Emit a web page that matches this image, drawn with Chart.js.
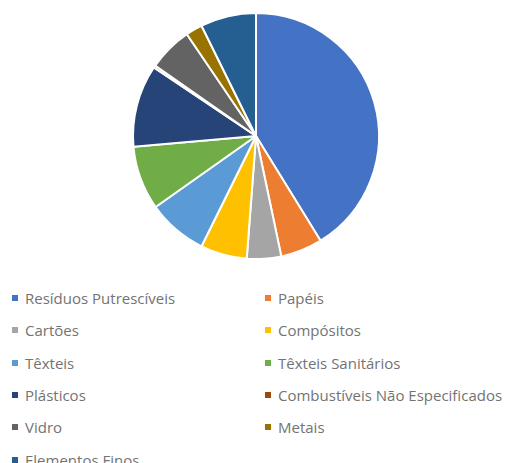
<!DOCTYPE html>
<html>
<head>
<meta charset="utf-8">
<script src="https://cdn.jsdelivr.net/npm/chart.js@4"></script>
<style>
  body { margin: 0; background: #fff; }
  #wrap { position: relative; width: 508px; height: 463px; overflow: hidden; }
  #pie { position: absolute; left: 0; top: 0; }
  #legend {
    position: absolute; left: 0; top: 288px; width: 508px;
    font-family: "Open Sans", sans-serif; font-size: 15px; color: #737373;
  }
  .item { position: absolute; white-space: nowrap; line-height: 20px; }
  .item i { display: inline-block; width: 6px; height: 6px; margin-right: 7px; vertical-align: 3px; }
</style>
</head>
<body>
<div id="wrap">
  <canvas id="pie" width="508" height="280"></canvas>
  <div id="legend"></div>
</div>
<script>
// composição dos resíduos (%)
const categorias = [
  'Resíduos Putrescíveis', 'Papéis', 'Cartões', 'Compósitos', 'Têxteis',
  'Têxteis Sanitários', 'Plásticos', 'Combustíveis Não Especificados',
  'Vidro', 'Metais', 'Elementos Finos'
];
const percentagens = [41.2, 5.5, 4.5, 6.1, 7.9, 8.4, 10.8, 0.3, 5.8, 2.2, 7.3];
const cores = [
  '#4472C4', '#ED7D31', '#A5A5A5', '#FFC000', '#5B9BD5',
  '#70AD47', '#264478', '#9E480E', '#636363', '#997300', '#255E91'
];

document.addEventListener('DOMContentLoaded', function () {
    const ctx = document.getElementById('pie').getContext('2d');
    const chart = new Chart(ctx, {
        type: 'pie',
        data: {
            labels: categorias,
            datasets: [{
                data: percentagens,
                backgroundColor: cores,
                borderColor: '#ffffff',
                borderWidth: 2
            }]
        },
        options: {
            responsive: false,
            animation: false,
            layout: { padding: { top: 12, bottom: 20, left: 4, right: 0 } },
            plugins: {
                legend: { display: false },
                tooltip: { enabled: false }
            }
        }
    });

    // legenda em duas colunas
    const legend = document.getElementById('legend');
    chart.data.labels.forEach(function (nome, i) {
        const el = document.createElement('div');
        el.className = 'item';
        el.style.left = (i % 2 === 0 ? 12 : 265) + 'px';
        el.style.top = (Math.floor(i / 2) * 32.3) + 'px';
        const marca = document.createElement('i');
        marca.style.background = chart.data.datasets[0].backgroundColor[i];
        el.appendChild(marca);
        el.appendChild(document.createTextNode(nome));
        legend.appendChild(el);
    });
});
</script>
</body>
</html>
